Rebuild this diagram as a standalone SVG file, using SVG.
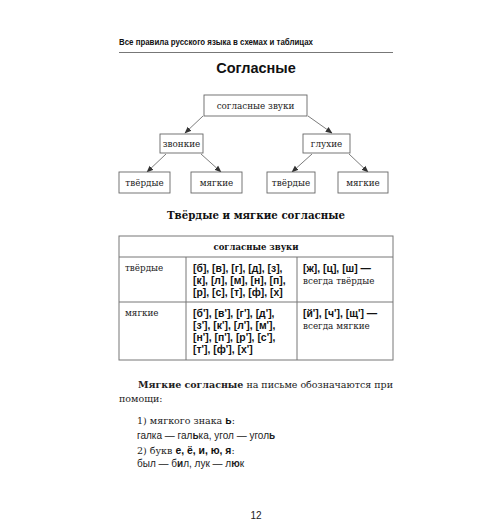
<svg xmlns="http://www.w3.org/2000/svg" width="500" height="532" viewBox="0 0 500 532">
<style>
.box{fill:#fff;stroke:#666;stroke-width:0.9}
.lbl{font-family:"DejaVu Serif","Liberation Serif",serif;font-size:8.8px;fill:#222;text-anchor:middle}
.ls{text-anchor:start}
.ser{font-family:"DejaVu Serif","Liberation Serif",serif;font-size:9.5px;fill:#222}
.sans{font-family:"Liberation Sans",Arial,sans-serif;font-size:10px;fill:#222}
.bs{font-family:"Liberation Sans",Arial,sans-serif;font-weight:bold;font-size:10.4px;fill:#111}
.tl{stroke:#777;stroke-width:1;fill:none}
.con{stroke:#444;stroke-width:0.7;fill:none;marker-end:url(#ah)}
</style>
<defs>
<marker id="ah" viewBox="0 0 10 10" refX="9" refY="5" markerWidth="7" markerHeight="7" markerUnits="userSpaceOnUse" orient="auto">
<path d="M0,1 L10,5 L0,9 z" fill="#333"/>
</marker>
</defs>
<rect width="500" height="532" fill="#fff"/>
<text x="119" y="45" font-family="Liberation Sans,Arial,sans-serif" font-weight="bold" font-size="8.5" fill="#111" textLength="194" lengthAdjust="spacingAndGlyphs">Все правила русского языка в схемах и таблицах</text>
<line x1="119" y1="52.5" x2="393" y2="52.5" stroke="#777" stroke-width="1"/>
<text x="256" y="73" font-family="Liberation Sans,Arial,sans-serif" font-weight="bold" font-size="14.5" fill="#111" text-anchor="middle">Согласные</text>
<g id="connectors">
<line class="con" x1="203" y1="116" x2="185" y2="133"/>
<line class="con" x1="308" y1="116" x2="332" y2="133"/>
<line class="con" x1="166" y1="154" x2="147" y2="172"/>
<line class="con" x1="201" y1="154" x2="221" y2="172"/>
<line class="con" x1="312" y1="154" x2="292" y2="172"/>
<line class="con" x1="349" y1="154" x2="368" y2="172"/>
</g>
<g id="n_root"><rect class="box" x="204" y="95" width="103" height="21"/><text class="lbl" x="255.5" y="108.5">согласные звуки</text></g>
<g id="n_zv"><rect class="box" x="160" y="134" width="43" height="19"/><text class="lbl" x="181.5" y="146.5">звонкие</text></g>
<g id="n_gl"><rect class="box" x="303" y="134" width="47" height="19"/><text class="lbl" x="326.5" y="146.5">глухие</text></g>
<g id="n_t1"><rect class="box" x="119" y="172" width="51" height="21"/><text class="lbl" x="144.5" y="185.5">твёрдые</text></g>
<g id="n_m1"><rect class="box" x="191" y="172" width="51" height="21"/><text class="lbl" x="216.5" y="185.5">мягкие</text></g>
<g id="n_t2"><rect class="box" x="267" y="172" width="48" height="21"/><text class="lbl" x="291" y="185.5">твёрдые</text></g>
<g id="n_m2"><rect class="box" x="338" y="172" width="50" height="21"/><text class="lbl" x="363" y="185.5">мягкие</text></g>
<text x="256" y="219" font-family="DejaVu Serif,Liberation Serif,serif" font-weight="bold" font-size="11" fill="#111" text-anchor="middle" textLength="178" lengthAdjust="spacingAndGlyphs">Твёрдые и мягкие согласные</text>
<g id="table">
<rect class="tl" x="119" y="236" width="274" height="124"/>
<line class="tl" x1="119" y1="257" x2="393" y2="257"/>
<line class="tl" x1="119" y1="302" x2="393" y2="302"/>
<line class="tl" x1="186" y1="257" x2="186" y2="360"/>
<line class="tl" x1="297" y1="257" x2="297" y2="360"/>
<text x="256" y="250" font-family="DejaVu Serif,Liberation Serif,serif" font-weight="bold" font-size="8.5" fill="#111" text-anchor="middle">согласные звуки</text>
<text class="lbl ls" x="125" y="271">твёрдые</text>
<text class="lbl ls" x="125" y="316">мягкие</text>
<text class="bs" x="193" y="272">[б], [в], [г], [д], [з],</text>
<text class="bs" x="193" y="284">[к], [л], [м], [н], [п],</text>
<text class="bs" x="193" y="296">[р], [с], [т], [ф], [х]</text>
<text class="bs" x="193" y="317">[б'], [в'], [г'], [д'],</text>
<text class="bs" x="193" y="329">[з'], [к'], [л'], [м'],</text>
<text class="bs" x="193" y="341">[н'], [п'], [р'], [с'],</text>
<text class="bs" x="193" y="353">[т'], [ф'], [х']</text>
<text class="bs" x="303" y="272">[ж], [ц], [ш] —</text>
<text class="lbl ls" x="303" y="284">всегда твёрдые</text>
<text class="bs" x="303" y="317">[й'], [ч'], [щ'] —</text>
<text class="lbl ls" x="303" y="329">всегда мягкие</text>
</g>
<text class="ser" x="138" y="388" textLength="255" lengthAdjust="spacing"><tspan font-weight="bold">Мягкие согласные</tspan> на письме обозначаются при</text>
<text class="ser" x="119" y="402">помощи:</text>
<text class="ser" x="137" y="424">1) мягкого знака <tspan class="bs">ь</tspan>:</text>
<text class="sans" x="137" y="439">галка — гал<tspan font-weight="bold">ь</tspan>ка, угол — угол<tspan font-weight="bold">ь</tspan></text>
<text class="ser" x="137" y="454">2) букв <tspan class="bs">е, ё, и, ю, я</tspan>:</text>
<text class="sans" x="137" y="467">был — б<tspan font-weight="bold">и</tspan>л, лук — л<tspan font-weight="bold">ю</tspan>к</text>
<text class="sans" x="256" y="519" text-anchor="middle" font-size="11">12</text>
</svg>
